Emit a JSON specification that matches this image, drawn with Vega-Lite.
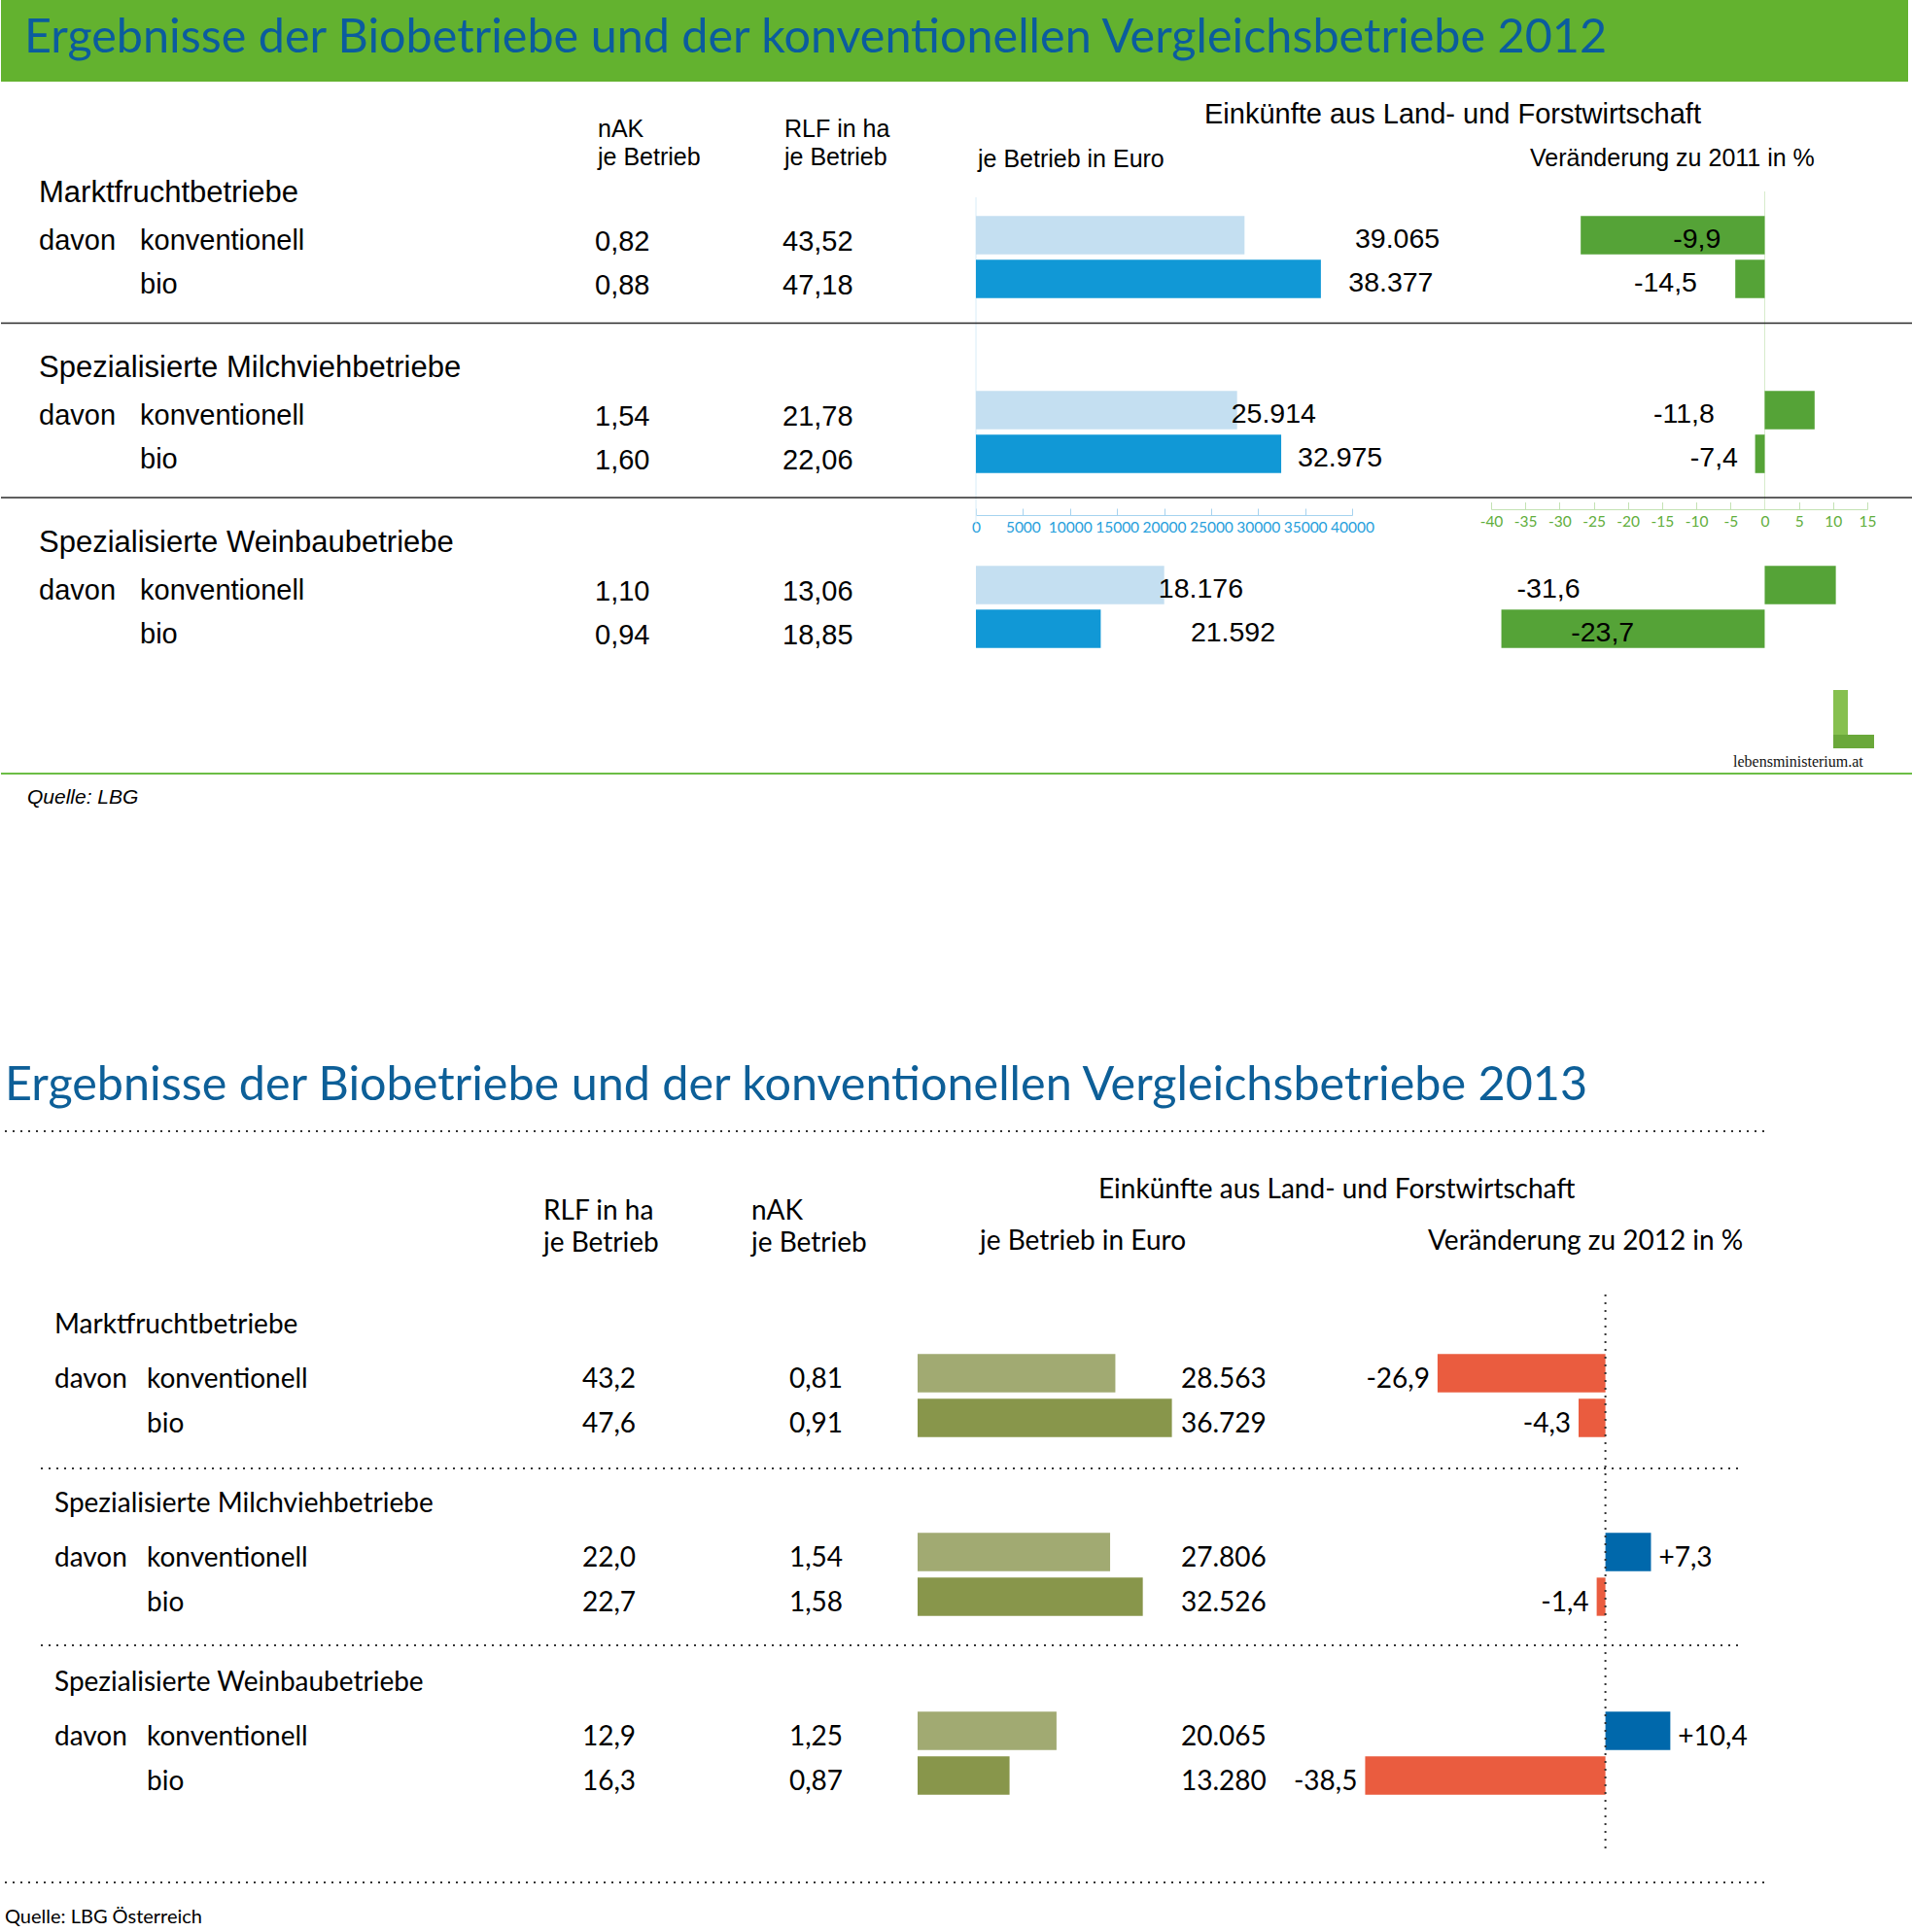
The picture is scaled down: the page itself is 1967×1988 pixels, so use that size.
{
  "$schema": "https://vega.github.io/schema/vega-lite/v6.json",
  "padding": 0,
  "spacing": 0,
  "bounds": "flush",
  "background": "white",
  "resolve": {"scale": {"color": "independent", "x": "independent", "y": "independent"}},
  "config": {
    "view": {"stroke": null},
    "locale": {"number": {"decimal": ",", "thousands": ".", "grouping": [3], "currency": ["", " €"], "minus": "-"}}
  },
  "datasets": {
    "d2012": [
      {"gruppe": "Marktfruchtbetriebe", "gruppe_zeile": "mf", "typ": "konventionell", "zeile": "mf_konv", "nak": 0.82, "rlf": 43.52, "einkuenfte": 39065, "veraenderung": -9.9, "balken_euro": 28560, "balken_pct": -26.9},
      {"gruppe": "Marktfruchtbetriebe", "gruppe_zeile": "mf", "typ": "bio", "zeile": "mf_bio", "nak": 0.88, "rlf": 47.18, "einkuenfte": 38377, "veraenderung": -14.5, "balken_euro": 36680, "balken_pct": -4.3},
      {"gruppe": "Spezialisierte Milchviehbetriebe", "gruppe_zeile": "mv", "typ": "konventionell", "zeile": "mv_konv", "nak": 1.54, "rlf": 21.78, "einkuenfte": 25914, "veraenderung": -11.8, "balken_euro": 27770, "balken_pct": 7.3},
      {"gruppe": "Spezialisierte Milchviehbetriebe", "gruppe_zeile": "mv", "typ": "bio", "zeile": "mv_bio", "nak": 1.60, "rlf": 22.06, "einkuenfte": 32975, "veraenderung": -7.4, "balken_euro": 32460, "balken_pct": -1.4},
      {"gruppe": "Spezialisierte Weinbaubetriebe", "gruppe_zeile": "wb", "typ": "konventionell", "zeile": "wb_konv", "nak": 1.10, "rlf": 13.06, "einkuenfte": 18176, "veraenderung": -31.6, "balken_euro": 20020, "balken_pct": 10.4},
      {"gruppe": "Spezialisierte Weinbaubetriebe", "gruppe_zeile": "wb", "typ": "bio", "zeile": "wb_bio", "nak": 0.94, "rlf": 18.85, "einkuenfte": 21592, "veraenderung": -23.7, "balken_euro": 13270, "balken_pct": -38.5}
    ],
    "d2013": [
      {"gruppe": "Marktfruchtbetriebe", "gruppe_zeile": "mf", "typ": "konventionell", "zeile": "mf_konv", "rlf": 43.2, "nak": 0.81, "einkuenfte": 28563, "veraenderung": -26.9},
      {"gruppe": "Marktfruchtbetriebe", "gruppe_zeile": "mf", "typ": "bio", "zeile": "mf_bio", "rlf": 47.6, "nak": 0.91, "einkuenfte": 36729, "veraenderung": -4.3},
      {"gruppe": "Spezialisierte Milchviehbetriebe", "gruppe_zeile": "mv", "typ": "konventionell", "zeile": "mv_konv", "rlf": 22.0, "nak": 1.54, "einkuenfte": 27806, "veraenderung": 7.3},
      {"gruppe": "Spezialisierte Milchviehbetriebe", "gruppe_zeile": "mv", "typ": "bio", "zeile": "mv_bio", "rlf": 22.7, "nak": 1.58, "einkuenfte": 32526, "veraenderung": -1.4},
      {"gruppe": "Spezialisierte Weinbaubetriebe", "gruppe_zeile": "wb", "typ": "konventionell", "zeile": "wb_konv", "rlf": 12.9, "nak": 1.25, "einkuenfte": 20065, "veraenderung": 10.4},
      {"gruppe": "Spezialisierte Weinbaubetriebe", "gruppe_zeile": "wb", "typ": "bio", "zeile": "wb_bio", "rlf": 16.3, "nak": 0.87, "einkuenfte": 13280, "veraenderung": -38.5}
    ]
  },
  "vconcat": [
    {
      "width": 1962,
      "height": 84,
      "view": {"fill": "#63b22f", "stroke": null},
      "data": {"values": [{}]},
      "mark": {"type": "text", "align": "left", "baseline": "alphabetic", "dy": 12, "font": "Lato", "fontSize": 48.5, "color": "#0b5c9e"},
      "encoding": {
        "x": {"datum": 0, "type": "quantitative", "scale": {"domain": [0, 1], "range": [24, 1962], "nice": false, "zero": false}, "axis": null},
        "y": {"datum": "titel", "type": "nominal", "scale": {"type": "band", "domain": ["titel"], "paddingInner": 0, "paddingOuter": 0}, "axis": null},
        "text": {"value": "Ergebnisse der Biobetriebe und der konventionellen Vergleichsbetriebe 2012"}
      }
    },
    {
      "width": 1967,
      "height": 770,
      "resolve": {"scale": {"x": "independent"}, "axis": {"x": "independent"}},
      "layer": [
        {
          "data": {"values": [{}]},
          "mark": {"type": "rule", "color": "#d8ecf8", "strokeWidth": 1, "y2Offset": 26},
          "encoding": {
            "y": {"datum": "mf", "type": "nominal", "axis": null, "scale": {"type": "band", "domain": ["kopf1","kopf2","mf","mf_konv","mf_bio","trenn1","mv","mv_konv","mv_bio","trenn2","wb","wb_konv","wb_bio","fuss1","fuss2","fuss3","fuss4"], "paddingInner": 0, "paddingOuter": 0.0556}},
            "yOffset": {"value": 26.5},
            "y2": {"datum": "trenn2"},
            "x": {"datum": 0, "type": "quantitative", "scale": {"domain": [0, 40000], "range": [1003, 1390], "nice": false, "zero": false}, "axis": null}
          }
        },
        {
          "data": {"values": [{}]},
          "mark": {"type": "rule", "color": "#d6ebca", "strokeWidth": 1, "y2Offset": 10},
          "encoding": {
            "y": {"datum": "mf", "type": "nominal"},
            "yOffset": {"value": 20.5},
            "y2": {"datum": "trenn2"},
            "x": {"datum": 0, "type": "quantitative", "scale": {"domain": [-40, 15], "range": [1533, 1920], "nice": false, "zero": false}, "axis": null}
          }
        },
        {
          "data": {"name": "d2012"},
          "mark": {"type": "bar", "height": {"band": 0.88}},
          "encoding": {
            "y": {"field": "zeile", "type": "nominal"},
            "yOffset": {"value": -2},
            "x": {"field": "balken_euro", "type": "quantitative", "scale": {"domain": [0, 40000], "range": [1003, 1390], "nice": false, "zero": false},
                  "axis": {"orient": "bottom", "offset": -324, "values": [0, 5000, 10000, 15000, 20000, 25000, 30000, 35000, 40000], "format": "d", "tickSize": -7, "tickColor": "#a6d3ef", "domainColor": "#a6d3ef", "labelColor": "#27a0dc", "labelFont": "Lato", "labelFontSize": 15.5, "labelPadding": 12, "labelOverlap": false, "labelFlush": false, "grid": false, "title": null}},
            "x2": {"datum": 0},
            "color": {"field": "typ", "type": "nominal", "scale": {"domain": ["konventionell", "bio"], "range": ["#c4dff1", "#1198d6"]}, "legend": null}
          }
        },
        {
          "data": {"name": "d2012"},
          "mark": {"type": "bar", "height": {"band": 0.88}, "color": "#55a337"},
          "encoding": {
            "y": {"field": "zeile", "type": "nominal"},
            "yOffset": {"value": -2},
            "x": {"field": "balken_pct", "type": "quantitative", "scale": {"domain": [-40, 15], "range": [1533, 1920], "nice": false, "zero": false},
                  "axis": {"orient": "bottom", "offset": -330, "values": [-40, -35, -30, -25, -20, -15, -10, -5, 0, 5, 10, 15], "format": "d", "tickSize": -7.5, "tickColor": "#c3e2b3", "domainColor": "#c3e2b3", "labelColor": "#5fae3c", "labelFont": "Lato", "labelFontSize": 15.5, "labelPadding": 13, "labelOverlap": false, "labelFlush": false, "grid": false, "title": null}},
            "x2": {"datum": 0}
          }
        },
        {
          "data": {"name": "d2012"},
          "mark": {"type": "text", "align": "left", "baseline": "middle", "dx": 12, "dy": 2, "font": "Liberation Sans", "fontSize": 28.5, "color": "#000"},
          "encoding": {
            "y": {"field": "zeile", "type": "nominal"},
            "x": {"field": "einkuenfte", "type": "quantitative", "scale": {"domain": [0, 40000], "range": [1003, 1390], "nice": false, "zero": false}, "axis": null},
            "text": {"field": "einkuenfte", "type": "quantitative", "format": ",.0f"}
          }
        },
        {
          "data": {"name": "d2012"},
          "mark": {"type": "text", "align": "center", "baseline": "middle", "dy": 2, "font": "Liberation Sans", "fontSize": 28.5, "color": "#000"},
          "encoding": {
            "y": {"field": "zeile", "type": "nominal"},
            "x": {"field": "veraenderung", "type": "quantitative", "scale": {"domain": [-40, 15], "range": [1533, 1920], "nice": false, "zero": false}, "axis": null},
            "text": {"field": "veraenderung", "type": "quantitative", "format": ".1f"}
          }
        },
        {
          "data": {"name": "d2012"},
          "transform": [{"filter": "datum.typ == 'konventionell'"}],
          "mark": {"type": "text", "align": "left", "baseline": "middle", "font": "Liberation Sans", "fontSize": 31, "color": "#000"},
          "encoding": {
            "y": {"field": "gruppe_zeile", "type": "nominal"},
            "x": {"datum": 1, "type": "quantitative", "scale": {"domain": [0,1,2,3,4,5,6,7,8,9], "range": [27,39,143,611,804,1005,1238,1573,1782,1885], "nice": false, "zero": false}, "axis": null},
            "text": {"field": "gruppe", "type": "nominal"}
          }
        },
        {
          "data": {"name": "d2012"},
          "transform": [{"filter": "datum.typ == 'konventionell'"}],
          "mark": {"type": "text", "align": "left", "baseline": "middle", "dy": 4, "font": "Liberation Sans", "fontSize": 29, "color": "#000"},
          "encoding": {
            "y": {"field": "zeile", "type": "nominal"},
            "x": {"datum": 1, "type": "quantitative", "scale": {"domain": [0,1,2,3,4,5,6,7,8,9], "range": [27,39,143,611,804,1005,1238,1573,1782,1885], "nice": false, "zero": false}, "axis": null},
            "text": {"value": "davon"}
          }
        },
        {
          "data": {"name": "d2012"},
          "mark": {"type": "text", "align": "left", "baseline": "middle", "dy": 4, "font": "Liberation Sans", "fontSize": 29, "color": "#000"},
          "encoding": {
            "y": {"field": "zeile", "type": "nominal"},
            "x": {"datum": 2, "type": "quantitative", "scale": {"domain": [0,1,2,3,4,5,6,7,8,9], "range": [27,39,143,611,804,1005,1238,1573,1782,1885], "nice": false, "zero": false}, "axis": null},
            "text": {"field": "typ", "type": "nominal"}
          }
        },
        {
          "data": {"name": "d2012"},
          "mark": {"type": "text", "align": "left", "baseline": "middle", "dy": 5, "font": "Liberation Sans", "fontSize": 29, "color": "#000"},
          "encoding": {
            "y": {"field": "zeile", "type": "nominal"},
            "x": {"datum": 3, "type": "quantitative", "scale": {"domain": [0,1,2,3,4,5,6,7,8,9], "range": [27,39,143,611,804,1005,1238,1573,1782,1885], "nice": false, "zero": false}, "axis": null},
            "text": {"field": "nak", "type": "quantitative", "format": ".2f"}
          }
        },
        {
          "data": {"name": "d2012"},
          "mark": {"type": "text", "align": "left", "baseline": "middle", "dy": 5, "font": "Liberation Sans", "fontSize": 29, "color": "#000"},
          "encoding": {
            "y": {"field": "zeile", "type": "nominal"},
            "x": {"datum": 4, "type": "quantitative", "scale": {"domain": [0,1,2,3,4,5,6,7,8,9], "range": [27,39,143,611,804,1005,1238,1573,1782,1885], "nice": false, "zero": false}, "axis": null},
            "text": {"field": "rlf", "type": "quantitative", "format": ".2f"}
          }
        },
        {
          "data": {"values": [{}]},
          "mark": {"type": "text", "align": "left", "baseline": "middle", "dx": 3, "dy": -21, "lineHeight": 29, "font": "Liberation Sans", "fontSize": 25, "color": "#000"},
          "encoding": {
            "y": {"datum": "kopf2", "type": "nominal"},
            "x": {"datum": 3, "type": "quantitative", "scale": {"domain": [0,1,2,3,4,5,6,7,8,9], "range": [27,39,143,611,804,1005,1238,1573,1782,1885], "nice": false, "zero": false}, "axis": null},
            "text": {"value": ["nAK", "je Betrieb"]}
          }
        },
        {
          "data": {"values": [{}]},
          "mark": {"type": "text", "align": "left", "baseline": "middle", "dx": 2, "dy": -21, "lineHeight": 29, "font": "Liberation Sans", "fontSize": 25, "color": "#000"},
          "encoding": {
            "y": {"datum": "kopf2", "type": "nominal"},
            "x": {"datum": 4, "type": "quantitative", "scale": {"domain": [0,1,2,3,4,5,6,7,8,9], "range": [27,39,143,611,804,1005,1238,1573,1782,1885], "nice": false, "zero": false}, "axis": null},
            "text": {"value": ["RLF in ha", "je Betrieb"]}
          }
        },
        {
          "data": {"values": [{}]},
          "mark": {"type": "text", "align": "left", "baseline": "middle", "dy": 9, "font": "Liberation Sans", "fontSize": 29, "color": "#000"},
          "encoding": {
            "y": {"datum": "kopf1", "type": "nominal"},
            "x": {"datum": 6, "type": "quantitative", "scale": {"domain": [0,1,2,3,4,5,6,7,8,9], "range": [27,39,143,611,804,1005,1238,1573,1782,1885], "nice": false, "zero": false}, "axis": null},
            "text": {"value": "Einkünfte aus Land- und Forstwirtschaft"}
          }
        },
        {
          "data": {"values": [{}]},
          "mark": {"type": "text", "align": "left", "baseline": "middle", "dy": 10, "font": "Liberation Sans", "fontSize": 25, "color": "#000"},
          "encoding": {
            "y": {"datum": "kopf2", "type": "nominal"},
            "x": {"datum": 5, "type": "quantitative", "scale": {"domain": [0,1,2,3,4,5,6,7,8,9], "range": [27,39,143,611,804,1005,1238,1573,1782,1885], "nice": false, "zero": false}, "axis": null},
            "text": {"value": "je Betrieb in Euro"}
          }
        },
        {
          "data": {"values": [{}]},
          "mark": {"type": "text", "align": "left", "baseline": "middle", "dy": 9, "font": "Liberation Sans", "fontSize": 25, "color": "#000"},
          "encoding": {
            "y": {"datum": "kopf2", "type": "nominal"},
            "x": {"datum": 7, "type": "quantitative", "scale": {"domain": [0,1,2,3,4,5,6,7,8,9], "range": [27,39,143,611,804,1005,1238,1573,1782,1885], "nice": false, "zero": false}, "axis": null},
            "text": {"value": "Veränderung zu 2011 in %"}
          }
        },
        {
          "data": {"values": [{}]},
          "mark": {"type": "rule", "color": "#2a2a2a", "strokeWidth": 1.5},
          "encoding": {"y": {"datum": "trenn1", "type": "nominal"}, "yOffset": {"value": 21}}
        },
        {
          "data": {"values": [{}]},
          "mark": {"type": "rule", "color": "#2a2a2a", "strokeWidth": 1.5},
          "encoding": {"y": {"datum": "trenn2", "type": "nominal"}, "yOffset": {"value": 20.5}}
        },
        {
          "data": {"values": [{}]},
          "mark": {"type": "rule", "color": "#6cbd45", "strokeWidth": 2},
          "encoding": {"y": {"datum": "fuss4", "type": "nominal"}, "yOffset": {"value": -10.5}}
        },
        {
          "data": {"values": [{}]},
          "mark": {"type": "text", "align": "left", "baseline": "middle", "dy": -8, "font": "Liberation Sans", "fontStyle": "italic", "fontSize": 21, "color": "#000"},
          "encoding": {
            "y": {"datum": "fuss4", "type": "nominal"},
            "x": {"datum": 0, "type": "quantitative", "scale": {"domain": [0,1,2,3,4,5,6,7,8,9], "range": [27,39,143,611,804,1005,1238,1573,1782,1885], "nice": false, "zero": false}, "axis": null},
            "text": {"value": "Quelle: LBG"}
          }
        },
        {
          "data": {"values": [{}]},
          "mark": {"type": "text", "align": "left", "baseline": "middle", "font": "Liberation Serif", "fontSize": 16, "color": "#111"},
          "encoding": {
            "y": {"datum": "fuss3", "type": "nominal"},
            "x": {"datum": 8, "type": "quantitative", "scale": {"domain": [0,1,2,3,4,5,6,7,8,9], "range": [27,39,143,611,804,1005,1238,1573,1782,1885], "nice": false, "zero": false}, "axis": null},
            "text": {"value": "lebensministerium.at"}
          }
        },
        {
          "data": {"values": [{}]},
          "mark": {"type": "rule", "color": "#86c04f", "strokeWidth": 15, "y2Offset": -14},
          "encoding": {
            "y": {"datum": "fuss2", "type": "nominal"},
            "yOffset": {"value": -6.5},
            "y2": {"datum": "fuss3"},
            "x": {"datum": 9, "type": "quantitative", "scale": {"domain": [0,1,2,3,4,5,6,7,8,9,10], "range": [27,39,143,611,804,1005,1238,1573,1782,1885,1927], "nice": false, "zero": false}, "axis": null},
            "xOffset": {"value": 7.5}
          }
        },
        {
          "data": {"values": [{}]},
          "mark": {"type": "rule", "color": "#6aa83a", "strokeWidth": 14},
          "encoding": {
            "y": {"datum": "fuss3", "type": "nominal"},
            "yOffset": {"value": 1.5},
            "x": {"datum": 9, "type": "quantitative", "scale": {"domain": [0,1,2,3,4,5,6,7,8,9,10], "range": [27,39,143,611,804,1005,1238,1573,1782,1885,1927], "nice": false, "zero": false}, "axis": null},
            "x2": {"datum": 10}
          }
        }
      ]
    },
    {
      "width": 1967,
      "height": 260,
      "data": {"values": [{}]},
      "mark": {"type": "text"},
      "encoding": {"text": {"value": ""}}
    },
    {
      "width": 1967,
      "height": 874,
      "resolve": {"scale": {"x": "independent"}, "axis": {"x": "independent"}},
      "layer": [
        {
          "data": {"name": "d2013"},
          "mark": {"type": "bar", "height": {"band": 0.855}},
          "encoding": {
            "y": {"field": "zeile", "type": "nominal", "axis": null, "scale": {"type": "band", "domain": ["titel","t_linie","kopfA","kopfB","kopfC","mf","mf_konv","mf_bio","trenn1","mv","mv_konv","mv_bio","trenn2","wb","wb_konv","wb_bio","fuss1","fuss2","quelle"], "paddingInner": 0, "paddingOuter": 0}},
            "x": {"field": "einkuenfte", "type": "quantitative", "scale": {"domain": [0, 40000], "range": [943, 1227.9], "nice": false, "zero": false}, "axis": null},
            "x2": {"datum": 0},
            "color": {"field": "typ", "type": "nominal", "scale": {"domain": ["konventionell", "bio"], "range": ["#a1aa72", "#88964b"]}, "legend": null}
          }
        },
        {
          "data": {"name": "d2013"},
          "mark": {"type": "bar", "height": {"band": 0.855}},
          "encoding": {
            "y": {"field": "zeile", "type": "nominal"},
            "x": {"field": "veraenderung", "type": "quantitative", "scale": {"domain": [-40, 15], "range": [1393.8, 1746.9], "nice": false, "zero": false}, "axis": null},
            "x2": {"datum": 0},
            "color": {"condition": {"test": "datum.veraenderung < 0", "value": "#ea5c3f"}, "value": "#0068ab"}
          }
        },
        {
          "data": {"name": "d2013"},
          "mark": {"type": "text", "align": "left", "baseline": "middle", "dy": 7, "font": "Lato", "fontSize": 28, "color": "#000"},
          "encoding": {
            "y": {"field": "zeile", "type": "nominal"},
            "x": {"datum": 10, "type": "quantitative", "scale": {"domain": [0,1,2,3,4,5,6,7,8,9,10,11,12,13], "range": [4,41,55,150,558,598,772,811,1007,1129,1214,1468,1788,1820], "nice": false, "zero": false}, "axis": null},
            "text": {"field": "einkuenfte", "type": "quantitative", "format": ",.0f"}
          }
        },
        {
          "data": {"name": "d2013"},
          "transform": [{"filter": "datum.veraenderung < 0"}],
          "mark": {"type": "text", "align": "right", "baseline": "middle", "dx": -8, "dy": 7, "font": "Lato", "fontSize": 28, "color": "#000"},
          "encoding": {
            "y": {"field": "zeile", "type": "nominal"},
            "x": {"field": "veraenderung", "type": "quantitative", "scale": {"domain": [-40, 15], "range": [1393.8, 1746.9], "nice": false, "zero": false}, "axis": null},
            "text": {"field": "veraenderung", "type": "quantitative", "format": ".1f"}
          }
        },
        {
          "data": {"name": "d2013"},
          "transform": [{"filter": "datum.veraenderung >= 0"}],
          "mark": {"type": "text", "align": "left", "baseline": "middle", "dx": 8, "dy": 7, "font": "Lato", "fontSize": 28, "color": "#000"},
          "encoding": {
            "y": {"field": "zeile", "type": "nominal"},
            "x": {"field": "veraenderung", "type": "quantitative", "scale": {"domain": [-40, 15], "range": [1393.8, 1746.9], "nice": false, "zero": false}, "axis": null},
            "text": {"field": "veraenderung", "type": "quantitative", "format": "+.1f"}
          }
        },
        {
          "data": {"name": "d2013"},
          "transform": [{"filter": "datum.typ == 'konventionell'"}],
          "mark": {"type": "text", "align": "left", "baseline": "middle", "dy": -3, "font": "Lato", "fontSize": 28, "color": "#000"},
          "encoding": {
            "y": {"field": "gruppe_zeile", "type": "nominal"},
            "x": {"datum": 2, "type": "quantitative", "scale": {"domain": [0,1,2,3,4,5,6,7,8,9,10,11,12,13], "range": [4,41,55,150,558,598,772,811,1007,1129,1214,1468,1788,1820], "nice": false, "zero": false}, "axis": null},
            "text": {"field": "gruppe", "type": "nominal"}
          }
        },
        {
          "data": {"name": "d2013"},
          "transform": [{"filter": "datum.typ == 'konventionell'"}],
          "mark": {"type": "text", "align": "left", "baseline": "middle", "dy": 7, "font": "Lato", "fontSize": 28, "color": "#000"},
          "encoding": {
            "y": {"field": "zeile", "type": "nominal"},
            "x": {"datum": 2, "type": "quantitative", "scale": {"domain": [0,1,2,3,4,5,6,7,8,9,10,11,12,13], "range": [4,41,55,150,558,598,772,811,1007,1129,1214,1468,1788,1820], "nice": false, "zero": false}, "axis": null},
            "text": {"value": "davon"}
          }
        },
        {
          "data": {"name": "d2013"},
          "mark": {"type": "text", "align": "left", "baseline": "middle", "dy": 7, "font": "Lato", "fontSize": 28, "color": "#000"},
          "encoding": {
            "y": {"field": "zeile", "type": "nominal"},
            "x": {"datum": 3, "type": "quantitative", "scale": {"domain": [0,1,2,3,4,5,6,7,8,9,10,11,12,13], "range": [4,41,55,150,558,598,772,811,1007,1129,1214,1468,1788,1820], "nice": false, "zero": false}, "axis": null},
            "text": {"field": "typ", "type": "nominal"}
          }
        },
        {
          "data": {"name": "d2013"},
          "mark": {"type": "text", "align": "left", "baseline": "middle", "dy": 7, "font": "Lato", "fontSize": 28, "color": "#000"},
          "encoding": {
            "y": {"field": "zeile", "type": "nominal"},
            "x": {"datum": 5, "type": "quantitative", "scale": {"domain": [0,1,2,3,4,5,6,7,8,9,10,11,12,13], "range": [4,41,55,150,558,598,772,811,1007,1129,1214,1468,1788,1820], "nice": false, "zero": false}, "axis": null},
            "text": {"field": "rlf", "type": "quantitative", "format": ".1f"}
          }
        },
        {
          "data": {"name": "d2013"},
          "mark": {"type": "text", "align": "left", "baseline": "middle", "dy": 7, "font": "Lato", "fontSize": 28, "color": "#000"},
          "encoding": {
            "y": {"field": "zeile", "type": "nominal"},
            "x": {"datum": 7, "type": "quantitative", "scale": {"domain": [0,1,2,3,4,5,6,7,8,9,10,11,12,13], "range": [4,41,55,150,558,598,772,811,1007,1129,1214,1468,1788,1820], "nice": false, "zero": false}, "axis": null},
            "text": {"field": "nak", "type": "quantitative", "format": ".2f"}
          }
        },
        {
          "data": {"values": [{}]},
          "mark": {"type": "text", "align": "left", "baseline": "alphabetic", "dy": -5, "font": "Lato", "fontSize": 48.5, "color": "#0d5f98"},
          "encoding": {
            "y": {"datum": "titel", "type": "nominal"},
            "x": {"datum": 0, "type": "quantitative", "scale": {"domain": [0,1,2,3,4,5,6,7,8,9,10,11,12,13], "range": [4,41,55,150,558,598,772,811,1007,1129,1214,1468,1788,1820], "nice": false, "zero": false}, "axis": null},
            "text": {"value": "Ergebnisse der Biobetriebe und der konventionellen Vergleichsbetriebe 2013"}
          }
        },
        {
          "data": {"values": [{}]},
          "mark": {"type": "rule", "color": "#333", "strokeWidth": 2, "strokeDash": [2, 6]},
          "encoding": {
            "y": {"datum": "t_linie", "type": "nominal"},
            "yOffset": {"value": 4},
            "x": {"datum": 0, "type": "quantitative", "scale": {"domain": [0,1,2,3,4,5,6,7,8,9,10,11,12,13], "range": [4,41,55,150,558,598,772,811,1007,1129,1214,1468,1788,1820], "nice": false, "zero": false}, "axis": null},
            "x2": {"datum": 13}
          }
        },
        {
          "data": {"values": [{}]},
          "mark": {"type": "text", "align": "left", "baseline": "middle", "dy": -4, "font": "Lato", "fontSize": 28, "color": "#000"},
          "encoding": {
            "y": {"datum": "kopfA", "type": "nominal"},
            "x": {"datum": 9, "type": "quantitative", "scale": {"domain": [0,1,2,3,4,5,6,7,8,9,10,11,12,13], "range": [4,41,55,150,558,598,772,811,1007,1129,1214,1468,1788,1820], "nice": false, "zero": false}, "axis": null},
            "text": {"value": "Einkünfte aus Land- und Forstwirtschaft"}
          }
        },
        {
          "data": {"values": [{}]},
          "mark": {"type": "text", "align": "left", "baseline": "middle", "dy": -28, "lineHeight": 33, "font": "Lato", "fontSize": 28, "color": "#000"},
          "encoding": {
            "y": {"datum": "kopfB", "type": "nominal"},
            "x": {"datum": 4, "type": "quantitative", "scale": {"domain": [0,1,2,3,4,5,6,7,8,9,10,11,12,13], "range": [4,41,55,150,558,598,772,811,1007,1129,1214,1468,1788,1820], "nice": false, "zero": false}, "axis": null},
            "text": {"value": ["RLF in ha", "je Betrieb"]}
          }
        },
        {
          "data": {"values": [{}]},
          "mark": {"type": "text", "align": "left", "baseline": "middle", "dy": -28, "lineHeight": 33, "font": "Lato", "fontSize": 28, "color": "#000"},
          "encoding": {
            "y": {"datum": "kopfB", "type": "nominal"},
            "x": {"datum": 6, "type": "quantitative", "scale": {"domain": [0,1,2,3,4,5,6,7,8,9,10,11,12,13], "range": [4,41,55,150,558,598,772,811,1007,1129,1214,1468,1788,1820], "nice": false, "zero": false}, "axis": null},
            "text": {"value": ["nAK", "je Betrieb"]}
          }
        },
        {
          "data": {"values": [{}]},
          "mark": {"type": "text", "align": "left", "baseline": "middle", "dy": 3, "font": "Lato", "fontSize": 28, "color": "#000"},
          "encoding": {
            "y": {"datum": "kopfB", "type": "nominal"},
            "x": {"datum": 8, "type": "quantitative", "scale": {"domain": [0,1,2,3,4,5,6,7,8,9,10,11,12,13], "range": [4,41,55,150,558,598,772,811,1007,1129,1214,1468,1788,1820], "nice": false, "zero": false}, "axis": null},
            "text": {"value": "je Betrieb in Euro"}
          }
        },
        {
          "data": {"values": [{}]},
          "mark": {"type": "text", "align": "left", "baseline": "middle", "dy": 3, "font": "Lato", "fontSize": 28, "color": "#000"},
          "encoding": {
            "y": {"datum": "kopfB", "type": "nominal"},
            "x": {"datum": 11, "type": "quantitative", "scale": {"domain": [0,1,2,3,4,5,6,7,8,9,10,11,12,13], "range": [4,41,55,150,558,598,772,811,1007,1129,1214,1468,1788,1820], "nice": false, "zero": false}, "axis": null},
            "text": {"value": "Veränderung zu 2012 in %"}
          }
        },
        {
          "data": {"values": [{}]},
          "mark": {"type": "rule", "color": "#333", "strokeWidth": 2, "strokeDash": [2, 6]},
          "encoding": {
            "y": {"datum": "trenn1", "type": "nominal"},
            "yOffset": {"value": 29},
            "x": {"datum": 1, "type": "quantitative", "scale": {"domain": [0,1,2,3,4,5,6,7,8,9,10,11,12,13], "range": [4,41,55,150,558,598,772,811,1007,1129,1214,1468,1788,1820], "nice": false, "zero": false}, "axis": null},
            "x2": {"datum": 12}
          }
        },
        {
          "data": {"values": [{}]},
          "mark": {"type": "rule", "color": "#333", "strokeWidth": 2, "strokeDash": [2, 6]},
          "encoding": {
            "y": {"datum": "trenn2", "type": "nominal"},
            "yOffset": {"value": 27},
            "x": {"datum": 1, "type": "quantitative", "scale": {"domain": [0,1,2,3,4,5,6,7,8,9,10,11,12,13], "range": [4,41,55,150,558,598,772,811,1007,1129,1214,1468,1788,1820], "nice": false, "zero": false}, "axis": null},
            "x2": {"datum": 12}
          }
        },
        {
          "data": {"values": [{}]},
          "mark": {"type": "rule", "color": "#333", "strokeWidth": 2, "strokeDash": [2, 6]},
          "encoding": {
            "y": {"datum": "quelle", "type": "nominal"},
            "yOffset": {"value": -5},
            "x": {"datum": 0, "type": "quantitative", "scale": {"domain": [0,1,2,3,4,5,6,7,8,9,10,11,12,13], "range": [4,41,55,150,558,598,772,811,1007,1129,1214,1468,1788,1820], "nice": false, "zero": false}, "axis": null},
            "x2": {"datum": 13}
          }
        },
        {
          "data": {"values": [{}]},
          "mark": {"type": "text", "align": "left", "baseline": "middle", "dy": 8, "font": "Lato", "fontSize": 20, "color": "#000"},
          "encoding": {
            "y": {"datum": "quelle", "type": "nominal"},
            "x": {"datum": 0, "type": "quantitative", "scale": {"domain": [0,1,2,3,4,5,6,7,8,9,10,11,12,13], "range": [4,41,55,150,558,598,772,811,1007,1129,1214,1468,1788,1820], "nice": false, "zero": false}, "axis": null},
            "text": {"value": "Quelle: LBG Österreich"}
          }
        },
        {
          "data": {"values": [{}]},
          "mark": {"type": "rule", "color": "#333", "strokeWidth": 2, "strokeDash": [2, 6], "y2Offset": -12},
          "encoding": {
            "y": {"datum": "kopfC", "type": "nominal"},
            "yOffset": {"value": 34},
            "y2": {"datum": "fuss2"},
            "x": {"datum": 0, "type": "quantitative", "scale": {"domain": [-40, 15], "range": [1393.8, 1746.9], "nice": false, "zero": false}, "axis": null}
          }
        }
      ]
    }
  ]
}
